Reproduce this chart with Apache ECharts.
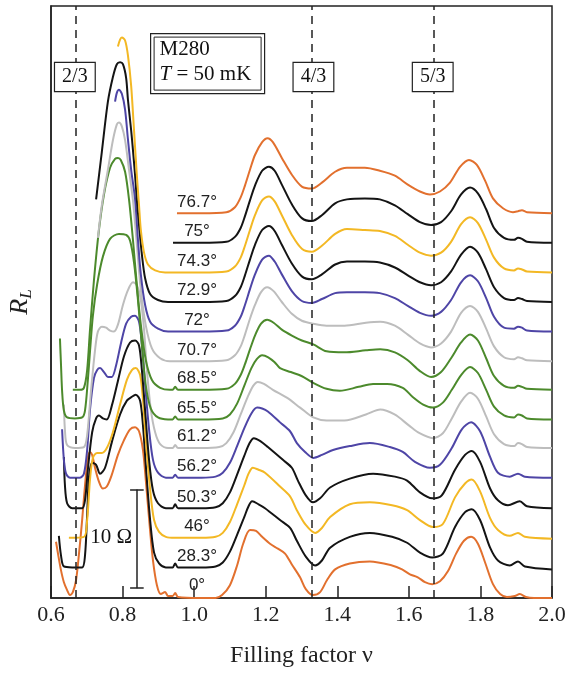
<!DOCTYPE html>
<html>
<head>
<meta charset="utf-8">
<script src="https://cdn.jsdelivr.net/npm/echarts@6/dist/echarts.min.js"></script>
<style>
  html, body { margin: 0; padding: 0; background: #fff; }
  #chart { width: 568px; height: 674px; }
</style>
</head>
<body>
<div id="chart"></div>
<script>
// tilt angles, bottom curve first
const angles = [0, 28.3, 46, 50.3, 56.2, 61.2, 65.5, 68.5, 70.7, 72, 72.9, 74.3, 75, 76.7]
// vertical offset of each trace (Ω)
const offsets = [0.1, 3.1, 6.1, 9.1, 12.2, 15.2, 18.1, 21.1, 24.0, 27.0, 30.0, 33.0, 36.0, 39.0]
const fractions = [2 / 3, 4 / 3, 5 / 3]
const fractionLabels = ['2/3', '4/3', '5/3']
const xTicks = [0.6, 0.8, 1.0, 1.2, 1.4, 1.6, 1.8, 2.0]
const scaleBar = { nu: 0.84, from: 1, to: 11 } // 10 Ω

// R_L (Ω, before offset) vs filling factor
const rl0 = [[0.614, 5.6], [0.620, 4.3], [0.628, 2.7], [0.636, 1.5], [0.645, 0.7], [0.653, 0.2], [0.661, 0.5], [0.670, 1.7], [0.678, 4.3], [0.687, 7.8], [0.695, 11.3], [0.703, 14.1], [0.709, 14.7], [0.715, 14.4], [0.723, 13.1], [0.734, 11.7], [0.745, 11.0], [0.756, 11.2], [0.770, 12.4], [0.787, 14.4], [0.804, 15.9], [0.821, 17.0], [0.835, 17.2], [0.846, 16.8], [0.857, 14.9], [0.865, 11.8], [0.877, 6.7], [0.885, 3.7], [0.896, 1.2], [0.907, 0.3], [0.919, 0.5], [0.927, 0.1], [0.94, 0.1], [0.947, 0.4], [0.955, 0], [1.016, -0.1], [1.06, -0.1],
  [1.078, 0.2], [1.100, 1.2], [1.120, 3.2], [1.137, 5.4], [1.156, 6.8], [1.173, 6.7], [1.190, 6.1], [1.212, 5.4], [1.234, 4.9], [1.254, 4.4], [1.273, 3.3], [1.296, 2.0], [1.312, 0.8], [1.332, 0.2], [1.352, 0.5], [1.371, 1.7], [1.394, 2.8], [1.435, 3.4], [1.491, 3.6], [1.553, 3.2], [1.581, 2.8], [1.603, 2.3], [1.625, 2.0], [1.645, 1.5], [1.665, 1.3], [1.687, 1.6], [1.709, 2.6], [1.732, 4.4], [1.754, 5.7], [1.774, 6.1], [1.793, 5.4], [1.813, 3.5], [1.835, 1.3], [1.855, 0.3], [1.874, 0], [1.896, 0.1], [1.910, 0.3], [1.927, 0], [1.95, -0.1], [2.0, -0.1]]

const rl28 = [[0.622, 3.2], [0.628, 1.2], [0.636, 0.1], [0.659, 0], [0.687, 0], [0.695, 1.2], [0.701, 5.3], [0.706, 9.1], [0.715, 10.6], [0.726, 10.4], [0.737, 9.5], [0.751, 10.1], [0.770, 12.7], [0.793, 15.5], [0.812, 16.9], [0.826, 17.3], [0.837, 17.5], [0.849, 16.9], [0.857, 14.4], [0.865, 10.3], [0.877, 4.8], [0.888, 1.5], [0.902, 0.4], [0.921, 0], [0.94, 0], [0.947, 0.4], [0.955, 0], [1.02, 0],
  [1.06, 0.1], [1.08, 0.5], [1.10, 1.6], [1.12, 3.3], [1.14, 5.1], [1.152, 6.2], [1.162, 6.7], [1.18, 6.4], [1.198, 6.0], [1.240, 4.8], [1.268, 4.0], [1.287, 2.7], [1.312, 1.1], [1.338, 0.2], [1.357, 0.7], [1.380, 2.0], [1.435, 3.1], [1.491, 3.5], [1.553, 3.1], [1.595, 2.5], [1.631, 1.5], [1.665, 1.0], [1.695, 1.4], [1.729, 4.1], [1.757, 5.6], [1.776, 5.9], [1.799, 4.8], [1.827, 2.0], [1.849, 0.7], [1.882, 0.2], [1.905, 0.6], [1.924, 0.1], [2.0, -0.2]]

const rl46 = [[0.650, 0], [0.692, 0.1], [0.701, 1.8], [0.709, 5.9], [0.717, 8.1], [0.729, 8.6], [0.742, 8.6], [0.756, 9.1], [0.773, 10.7], [0.793, 13.5], [0.812, 16.0], [0.826, 17.0], [0.837, 17.2], [0.849, 16.5], [0.857, 14.0], [0.865, 9.9], [0.877, 4.9], [0.888, 1.8], [0.902, 0.6], [0.921, 0.1], [0.946, 0], [1.02, 0],
  [1.06, 0.1], [1.08, 0.5], [1.10, 1.6], [1.12, 3.4], [1.14, 5.3], [1.152, 6.5], [1.164, 7.1], [1.18, 6.9], [1.198, 6.6], [1.240, 5.2], [1.268, 4.2], [1.287, 2.8], [1.312, 1.3], [1.338, 0.5], [1.357, 1.0], [1.380, 2.1], [1.435, 3.4], [1.491, 3.6], [1.553, 3.3], [1.595, 2.8], [1.631, 1.8], [1.667, 1.1], [1.695, 1.4], [1.729, 4.1], [1.757, 5.5], [1.776, 5.9], [1.799, 4.7], [1.827, 2.0], [1.849, 0.8], [1.882, 0.2], [1.905, 0.5], [1.924, 0.1], [2.0, -0.1]]

const rl50 = [[0.636, 5.2], [0.639, 2.3], [0.645, 0.5], [0.659, 0], [0.687, 0], [0.695, 0.8], [0.703, 3.9], [0.715, 7.7], [0.726, 9.1], [0.734, 9.4], [0.745, 9.1], [0.756, 9.0], [0.770, 10.4], [0.787, 12.9], [0.804, 15.4], [0.821, 16.8], [0.835, 17.0], [0.846, 16.5], [0.854, 14.0], [0.863, 9.9], [0.874, 4.9], [0.885, 1.8], [0.899, 0.5], [0.921, 0], [0.94, 0], [0.947, 0.4], [0.955, 0], [1.02, 0],
  [1.06, 0.1], [1.08, 0.5], [1.10, 1.6], [1.12, 3.4], [1.14, 5.3], [1.155, 6.6], [1.167, 7.1], [1.185, 6.8], [1.206, 6.2], [1.248, 4.9], [1.273, 4.1], [1.290, 2.8], [1.312, 1.3], [1.332, 0.6], [1.352, 1.0], [1.380, 2.1], [1.435, 3.0], [1.500, 3.5], [1.561, 3.2], [1.595, 2.8], [1.631, 1.6], [1.665, 1.0], [1.692, 1.3], [1.729, 3.9], [1.757, 5.4], [1.776, 5.8], [1.799, 4.7], [1.827, 2.0], [1.849, 0.8], [1.877, 0.3], [1.91, 0.7], [1.93, 0.2], [2.0, 0]]

const rl56 = [[0.631, 4.9], [0.636, 1.8], [0.642, 0.4], [0.653, 0], [0.681, 0], [0.692, 0.4], [0.701, 2.8], [0.709, 6.9], [0.720, 10.1], [0.729, 10.9], [0.737, 11.1], [0.748, 10.7], [0.759, 10.2], [0.770, 10.2], [0.782, 11.4], [0.796, 13.7], [0.810, 15.6], [0.824, 16.3], [0.835, 16.4], [0.846, 15.8], [0.854, 13.5], [0.863, 9.4], [0.874, 4.9], [0.885, 1.8], [0.899, 0.5], [0.921, 0], [0.94, 0], [0.947, 0.3], [0.955, 0], [1.02, 0],
  [1.06, 0.1], [1.08, 0.5], [1.10, 1.5], [1.12, 3.2], [1.14, 5.0], [1.16, 6.5], [1.176, 7.1], [1.19, 7.0], [1.206, 6.7], [1.240, 5.6], [1.268, 4.7], [1.287, 3.5], [1.310, 2.6], [1.333, 2.0], [1.357, 2.3], [1.388, 2.8], [1.435, 3.2], [1.491, 3.5], [1.547, 3.1], [1.583, 2.6], [1.617, 1.6], [1.659, 1.0], [1.687, 1.3], [1.720, 3.0], [1.748, 4.9], [1.774, 5.6], [1.799, 4.7], [1.827, 2.1], [1.849, 0.5], [1.882, 0.1], [1.905, 0.4], [1.924, 0.1], [2.0, 0]]

const rl61 = [[0.636, 4.4], [0.639, 1.8], [0.645, 0.3], [0.667, 0], [0.692, 0.1], [0.701, 1.3], [0.712, 5.9], [0.723, 9.9], [0.731, 11.8], [0.742, 12.3], [0.754, 12.2], [0.765, 11.9], [0.776, 11.8], [0.787, 12.5], [0.801, 14.5], [0.815, 16.0], [0.829, 16.8], [0.840, 16.5], [0.851, 15.0], [0.860, 12.0], [0.868, 7.9], [0.879, 3.9], [0.891, 1.6], [0.905, 0.4], [0.927, 0], [0.94, 0], [0.947, 0.3], [0.955, 0], [1.02, 0],
  [1.07, 0.1], [1.09, 0.5], [1.11, 1.6], [1.13, 3.4], [1.15, 5.2], [1.165, 6.3], [1.178, 6.7], [1.195, 6.5], [1.22, 5.9], [1.259, 5.1], [1.296, 4.1], [1.333, 3.1], [1.37, 2.8], [1.42, 2.8], [1.48, 3.4], [1.52, 3.9], [1.56, 3.4], [1.60, 2.3], [1.63, 1.5], [1.667, 1.0], [1.695, 1.5], [1.72, 3.0], [1.746, 4.7], [1.771, 5.6], [1.793, 5.0], [1.816, 3.2], [1.838, 1.4], [1.866, 0.4], [1.894, 0.2], [1.905, 0.5], [1.916, 0.4], [1.930, 0.1], [2.0, 0]]

const rl65 = [[0.625, 8.2], [0.628, 5.5], [0.631, 2.9], [0.636, 0.9], [0.645, 0.2], [0.667, 0.1], [0.687, 0.2], [0.695, 0.9], [0.703, 4.0], [0.709, 6.9], [0.717, 10.5], [0.729, 13.7], [0.745, 16.5], [0.765, 18.3], [0.790, 18.8], [0.810, 18.7], [0.821, 18.1], [0.832, 15.9], [0.843, 12.1], [0.854, 7.5], [0.865, 3.4], [0.879, 1.1], [0.899, 0.2], [0.927, 0], [0.94, 0], [0.947, 0.3], [0.955, 0], [1.02, 0],
  [1.08, 0.1], [1.10, 0.5], [1.12, 1.6], [1.14, 3.4], [1.16, 5.2], [1.175, 6.1], [1.190, 6.5], [1.207, 6.3], [1.225, 5.8], [1.240, 5.2], [1.27, 4.8], [1.30, 4.4], [1.333, 3.7], [1.37, 3.1], [1.407, 2.9], [1.46, 3.3], [1.50, 3.6], [1.539, 3.6], [1.583, 3.2], [1.61, 2.3], [1.64, 1.5], [1.667, 1.2], [1.695, 1.7], [1.72, 3.0], [1.746, 4.5], [1.771, 5.3], [1.793, 4.7], [1.816, 3.0], [1.838, 1.3], [1.866, 0.4], [1.894, 0.2], [1.905, 0.5], [1.916, 0.4], [1.930, 0.1], [2.0, 0]]

const rl68 = [[0.661, 0], [0.681, 0], [0.692, 0.2], [0.701, 2.0], [0.709, 6.1], [0.720, 11.1], [0.734, 16.2], [0.748, 19.8], [0.765, 22.5], [0.779, 23.4], [0.787, 23.5], [0.795, 23.3], [0.807, 22.1], [0.818, 19.3], [0.829, 15.2], [0.840, 10.6], [0.851, 6.6], [0.865, 3.0], [0.882, 1.0], [0.905, 0.2], [0.932, 0], [0.94, 0], [0.947, 0.3], [0.955, 0], [1.02, 0],
  [1.09, 0.1], [1.114, 0.6], [1.13, 1.5], [1.142, 2.6], [1.156, 4.1], [1.170, 5.5], [1.187, 6.7], [1.204, 7.1], [1.222, 6.8], [1.245, 6.1], [1.273, 5.5], [1.301, 5.0], [1.333, 4.6], [1.37, 3.9], [1.42, 3.8], [1.48, 4.0], [1.52, 4.1], [1.561, 3.8], [1.597, 3.0], [1.631, 1.9], [1.662, 1.3], [1.690, 1.8], [1.718, 3.2], [1.746, 4.8], [1.771, 5.6], [1.793, 5.0], [1.816, 3.2], [1.838, 1.4], [1.866, 0.4], [1.894, 0.2], [1.905, 0.4], [1.916, 0.3], [1.930, 0.1], [2.0, 0]]

const rl70 = [[0.731, 12.5], [0.742, 15.8], [0.759, 19.4], [0.773, 22.4], [0.784, 24.0], [0.790, 24.2], [0.798, 23.8], [0.807, 22.4], [0.818, 19.4], [0.829, 16.3], [0.840, 11.8], [0.851, 7.2], [0.865, 3.6], [0.882, 1.3], [0.905, 0.3], [0.932, 0], [1.02, 0],
  [1.09, 0.1], [1.114, 0.6], [1.13, 1.5], [1.142, 2.7], [1.156, 4.3], [1.170, 5.7], [1.187, 7.0], [1.204, 7.5], [1.222, 7.1], [1.245, 6.0], [1.273, 4.8], [1.301, 4.1], [1.333, 3.8], [1.37, 3.6], [1.42, 3.6], [1.48, 3.9], [1.52, 4.0], [1.561, 3.6], [1.597, 2.7], [1.631, 1.8], [1.662, 1.4], [1.690, 1.8], [1.718, 3.0], [1.746, 4.9], [1.771, 5.6], [1.793, 5.0], [1.816, 3.3], [1.838, 1.5], [1.866, 0.4], [1.894, 0.2], [1.905, 0.4], [1.916, 0.3], [1.930, 0.1], [2.0, 0]]

const rl72 = [[0.779, 23.3], [0.784, 24.2], [0.790, 24.5], [0.798, 24.1], [0.807, 22.5], [0.815, 19.5], [0.824, 16.4], [0.835, 13.4], [0.843, 9.3], [0.851, 5.8], [0.863, 2.7], [0.877, 1.0], [0.899, 0.3], [0.927, 0], [1.02, 0],
  [1.09, 0.1], [1.114, 0.6], [1.13, 1.5], [1.142, 2.7], [1.156, 4.3], [1.170, 5.8], [1.190, 7.3], [1.209, 7.7], [1.225, 7.1], [1.245, 5.8], [1.273, 4.1], [1.301, 3.1], [1.329, 2.9], [1.357, 3.3], [1.394, 3.9], [1.427, 4.0], [1.477, 4.0], [1.519, 3.9], [1.561, 3.4], [1.597, 2.6], [1.631, 1.9], [1.662, 1.6], [1.690, 2.0], [1.718, 3.2], [1.746, 5.0], [1.771, 5.7], [1.793, 5.1], [1.816, 3.4], [1.838, 1.5], [1.866, 0.4], [1.894, 0.3], [1.905, 0.5], [1.916, 0.4], [1.930, 0.1], [2.0, 0]]

const rl72_9 = [[0.726, 10.4], [0.742, 15.2], [0.759, 20.3], [0.773, 22.8], [0.784, 24.1], [0.793, 24.3], [0.801, 24.1], [0.810, 22.7], [0.815, 20.5], [0.824, 17.4], [0.829, 15.4], [0.835, 12.8], [0.840, 10.3], [0.846, 7.8], [0.854, 4.8], [0.863, 2.4], [0.877, 0.8], [0.899, 0.2], [0.927, 0], [1.02, 0],
  [1.09, 0.1], [1.114, 0.6], [1.13, 1.5], [1.142, 2.7], [1.156, 4.3], [1.170, 5.8], [1.190, 7.3], [1.209, 7.7], [1.225, 7.2], [1.245, 5.8], [1.273, 3.9], [1.301, 2.6], [1.329, 2.3], [1.357, 2.8], [1.394, 3.8], [1.427, 4.1], [1.477, 4.1], [1.519, 4.0], [1.561, 3.5], [1.597, 2.7], [1.631, 2.0], [1.662, 1.7], [1.690, 2.0], [1.718, 3.1], [1.746, 4.8], [1.771, 5.6], [1.793, 5.0], [1.816, 3.3], [1.838, 1.5], [1.866, 0.4], [1.894, 0.2], [1.905, 0.4], [1.916, 0.3], [1.930, 0.1], [2.0, 0]]

const rl74 = [[0.787, 22.9], [0.793, 23.6], [0.798, 23.8], [0.807, 23.5], [0.815, 22.0], [0.824, 18.9], [0.832, 14.4], [0.840, 9.8], [0.846, 6.8], [0.851, 4.3], [0.860, 2.0], [0.871, 0.8], [0.891, 0.2], [0.919, 0], [1.02, 0],
  [1.09, 0.1], [1.114, 0.6], [1.13, 1.5], [1.142, 2.7], [1.156, 4.3], [1.170, 5.8], [1.190, 7.3], [1.209, 7.7], [1.225, 7.2], [1.245, 5.8], [1.273, 3.8], [1.301, 2.4], [1.329, 2.1], [1.357, 2.7], [1.394, 3.9], [1.427, 4.4], [1.477, 4.3], [1.519, 4.2], [1.561, 3.7], [1.597, 2.8], [1.631, 2.0], [1.662, 1.7], [1.690, 2.0], [1.718, 3.1], [1.746, 4.9], [1.771, 5.6], [1.793, 5.0], [1.816, 3.3], [1.838, 1.5], [1.866, 0.4], [1.894, 0.2], [1.905, 0.4], [1.916, 0.3], [1.930, 0.1], [2.0, 0]]

const rl75 = [[0.941, 0], [1.02, 0],
  [1.09, 0.1], [1.114, 0.6], [1.13, 1.5], [1.142, 2.7], [1.156, 4.3], [1.170, 5.8], [1.190, 7.3], [1.209, 7.7], [1.225, 7.3], [1.245, 5.9], [1.273, 3.9], [1.301, 2.5], [1.329, 2.2], [1.357, 2.8], [1.394, 4.0], [1.427, 4.4], [1.477, 4.5], [1.519, 4.4], [1.561, 3.8], [1.597, 2.9], [1.631, 2.1], [1.662, 1.8], [1.690, 2.1], [1.718, 3.2], [1.746, 4.9], [1.771, 5.6], [1.793, 5.0], [1.816, 3.4], [1.838, 1.5], [1.866, 0.5], [1.894, 0.3], [1.905, 0.5], [1.916, 0.4], [1.930, 0.1], [2.0, 0]]

const rl76 = [[0.952, 0], [1.02, 0],
  [1.09, 0.1], [1.114, 0.6], [1.13, 1.6], [1.142, 2.8], [1.156, 4.4], [1.170, 5.9], [1.190, 7.2], [1.205, 7.6], [1.220, 7.2], [1.245, 5.6], [1.273, 3.9], [1.301, 2.7], [1.329, 2.5], [1.357, 3.1], [1.394, 4.2], [1.427, 4.6], [1.477, 4.6], [1.519, 4.3], [1.561, 3.8], [1.597, 2.9], [1.631, 2.2], [1.659, 1.9], [1.687, 2.2], [1.715, 3.1], [1.743, 4.7], [1.768, 5.4], [1.790, 4.9], [1.813, 3.3], [1.835, 1.5], [1.863, 0.5], [1.891, 0.1], [1.905, 0.2], [1.916, 0.3], [1.930, 0.1], [2.0, 0]]

const curves = [rl0, rl28, rl46, rl50, rl56, rl61, rl65, rl68, rl70, rl72, rl72_9, rl74, rl75, rl76]

const ORANGE = '#E2702E'
const BLACK = '#141414'
const YELLOW = '#F3B824'
const BLUE = '#4E45A6'
const GRAY = '#BDBDBD'
const GREEN = '#4C8A2C'
const colors = [ORANGE, BLACK, YELLOW, BLACK, BLUE, GRAY, GREEN, GREEN, GRAY, BLUE, BLACK, YELLOW, BLACK, ORANGE]

const serif = 'Liberation Serif'
const sans = 'Liberation Sans'

const chart = echarts.init(document.getElementById('chart'))

const series = curves.map(function (c, i) {
  return {
    name: angles[i] + '°',
    type: 'line',
    smooth: 0.3,
    symbol: 'none',
    lineStyle: { color: colors[i], width: 2 },
    data: c.map(function (p) { return [p[0], +(p[1] + offsets[i]).toFixed(2)] }),
    markPoint: {
      symbolSize: 0,
      silent: true,
      data: [{ coord: [1.008, offsets[i] + 1.15] }],
      label: {
        show: true,
        position: 'inside',
        formatter: angles[i] + '°',
        fontFamily: sans,
        fontSize: 17,
        color: '#222'
      }
    }
  }
})

// dashed fraction lines, their boxed labels, and the 10 Ω scale bar
series.push({
  name: 'marks',
  type: 'line',
  symbol: 'none',
  data: [],
  markLine: {
    silent: true,
    symbol: ['none', 'none'],
    label: { show: false },
    data: fractions.map(function (f) {
      return { xAxis: f, lineStyle: { type: [8, 6], color: '#222', width: 1.5 } }
    }).concat([
      [{ coord: [scaleBar.nu, scaleBar.from] }, { coord: [scaleBar.nu, scaleBar.to] }],
      [{ coord: [scaleBar.nu - 0.019, scaleBar.to] }, { coord: [scaleBar.nu + 0.019, scaleBar.to] }],
      [{ coord: [scaleBar.nu - 0.019, scaleBar.from] }, { coord: [scaleBar.nu + 0.019, scaleBar.from] }]
    ].map(function (seg) {
      seg[0].lineStyle = { type: 'solid', color: '#222', width: 1.5 }
      return seg
    }))
  },
  markPoint: {
    symbolSize: 0,
    silent: true,
    data: fractions.map(function (f, k) {
      return {
        coord: [f, 52.8],
        label: {
          show: true,
          position: 'inside',
          formatter: fractionLabels[k],
          fontFamily: serif,
          fontSize: 20,
          color: '#111',
          backgroundColor: '#fff',
          borderColor: '#222',
          borderWidth: 1.2,
          padding: [5, 7, 3, 7]
        }
      }
    }).concat([{
      coord: [0.768, 6.1],
      label: {
        show: true,
        position: 'inside',
        formatter: '10 Ω',
        fontFamily: serif,
        fontSize: 21,
        color: '#111'
      }
    }])
  }
})

chart.setOption({
  animation: false,
  backgroundColor: '#fff',
  grid: {
    left: 51,
    right: 16,
    top: 6,
    bottom: 76,
    outerBoundsMode: 'none',
    containLabel: false,
    show: true,
    borderColor: '#222',
    borderWidth: 1.5,
    backgroundColor: 'transparent'
  },
  xAxis: {
    type: 'value',
    min: xTicks[0],
    max: xTicks[xTicks.length - 1],
    interval: 0.2,
    name: 'Filling factor ν',
    nameLocation: 'middle',
    nameGap: 46,
    nameTextStyle: { fontFamily: serif, fontSize: 24, color: '#222' },
    axisLine: { lineStyle: { color: '#222', width: 1.5 } },
    axisTick: { inside: true, length: 12, lineStyle: { color: '#222', width: 1.5 } },
    axisLabel: {
      margin: 6,
      fontFamily: serif,
      fontSize: 22,
      color: '#222',
      formatter: function (v) { return v.toFixed(1) }
    },
    splitLine: { show: false }
  },
  yAxis: {
    type: 'value',
    min: 0,
    max: 60,
    name: '{r|R}{l|L}',
    nameLocation: 'middle',
    nameGap: 16,
    nameRotate: 90,
    nameTextStyle: {
      rich: {
        r: { fontFamily: serif, fontStyle: 'italic', fontSize: 26, color: '#222', lineHeight: 30 },
        l: { fontFamily: serif, fontStyle: 'italic', fontSize: 17, color: '#222', lineHeight: 30, verticalAlign: 'bottom', padding: [10, 0, 0, 0] }
      }
    },
    axisLine: { show: true, lineStyle: { color: '#222', width: 1.5 } },
    axisTick: { show: false },
    axisLabel: { show: false },
    splitLine: { show: false }
  },
  graphic: [{
    type: 'group',
    left: 150,
    top: 33,
    silent: true,
    children: [
      { type: 'rect', shape: { x: 0, y: 0, width: 114, height: 60 }, style: { fill: '#fff', stroke: '#222', lineWidth: 1.2 } },
      { type: 'rect', shape: { x: 3.5, y: 3.5, width: 107, height: 53 }, style: { fill: '#fff', stroke: '#222', lineWidth: 1 } },
      { type: 'text', x: 9, y: 5, style: { text: 'M280', fontFamily: serif, fontSize: 21, fill: '#111' } },
      {
        type: 'text',
        x: 9,
        y: 30,
        style: {
          text: '{i|T} = 50 mK',
          fontFamily: serif,
          fontSize: 21,
          fill: '#111',
          rich: { i: { fontFamily: serif, fontStyle: 'italic', fontSize: 21, fill: '#111' } }
        }
      }
    ]
  }],
  series: series
})
</script>
</body>
</html>
